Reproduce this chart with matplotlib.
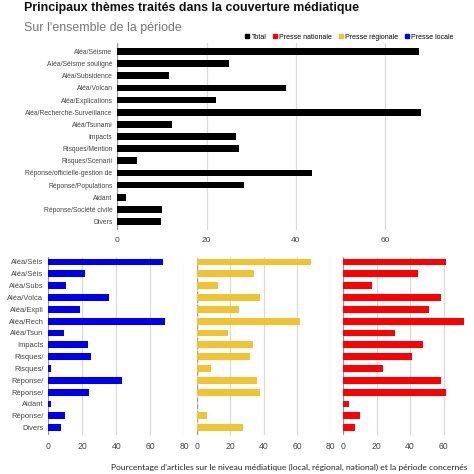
import matplotlib
matplotlib.use('Agg')
import matplotlib.pyplot as plt
from matplotlib.lines import Line2D

# themes, top chart (full labels) and small multiples (truncated labels)
themes = ['Aléa/Séisme', 'Aléa/Séisme souligné', 'Aléa/Subsidence', 'Aléa/Volcan',
          'Aléa/Explications', 'Aléa/Recherche-Surveillance', 'Aléa/Tsunami', 'Impacts',
          'Risques/Mention', 'Risques/Scenarii', 'Réponse/officielle-gestion de',
          'Réponse/Populations', 'Aidant', 'Réponse/Société civile', 'Divers']
short_themes = ['Aléa/Séis', 'Aléa/Séis', 'Aléa/Subs', 'Aléa/Volca', 'Aléa/Expli',
                'Aléa/Rech', 'Aléa/Tsun', 'Impacts', 'Risques/', 'Risques/',
                'Réponse/', 'Réponse/', 'Aidant', 'Réponse/', 'Divers']

total = [67.6, 24.9, 11.6, 37.7, 22.0, 68.1, 12.3, 26.5, 27.2, 4.3, 43.6, 28.4, 2.0, 10.1, 9.7]
locale = [67.6, 21.6, 10.4, 35.7, 18.6, 68.8, 9.2, 23.1, 24.9, 1.4, 43.3, 23.9, 1.8, 10.0, 7.3]
regionale = [68.1, 34.1, 12.5, 38.0, 25.3, 61.6, 18.9, 33.9, 31.7, 8.6, 36.3, 38.0, 0.0, 6.2, 27.7]
nationale = [61.6, 44.5, 17.1, 58.4, 51.6, 72.2, 31.0, 48.0, 41.2, 24.1, 58.4, 61.6, 3.5, 10.2, 6.9]

legend_names = ['Total', 'Presse nationale', 'Presse régionale', 'Presse locale']

BLACK = '#000000'
RED = '#ff0000'
YELLOW = '#f1c232'
BLUE = '#0000ee'
GRID = '#d9d9d9'

plt.rcParams['font.family'] = ['Liberation Sans Narrow', 'Liberation Sans', 'DejaVu Sans']

W = H = 474
fig = plt.figure(figsize=(W / 100, H / 100), dpi=100)
fig.patch.set_facecolor('white')


def px_axes(x0, y0, x1, y1):
    # pixel box (top-left origin) -> figure axes
    return fig.add_axes([x0 / W, 1 - y1 / H, (x1 - x0) / W, (y1 - y0) / H])


def style(ax, xmax, ticks, tick_fs, zero_ls='-'):
    ax.set_xlim(0, xmax)
    ax.set_xticks(ticks)
    ax.xaxis.grid(True, color=GRID, linewidth=0.9)
    ax.set_axisbelow(True)
    for s in ax.spines.values():
        s.set_visible(False)
    ax.axvline(0, color='#999999', linewidth=0.9, linestyle=zero_ls, zorder=1)
    ax.tick_params(axis='both', length=0, colors='#444444')
    ax.tick_params(axis='x', labelsize=tick_fs, pad=5)


y = list(range(len(themes)))

# top chart: totals
ax = px_axes(117.3, 43, 452.3, 230)
ax.barh(y, total, height=0.56, color=BLACK, zorder=2)
ax.set_ylim(14.7, -0.7)
ax.set_yticks(y)
ax.set_yticklabels(themes, fontsize=4.9, color='#222222')
style(ax, 75, [0, 20, 40, 60], 6)
ax.tick_params(axis='y', pad=3.5)

handles = [Line2D([], [], marker='s', linestyle='none', color=c, markersize=3.0)
           for c in [BLACK, RED, YELLOW, BLUE]]
fig.legend(handles, legend_names, loc='center right', bbox_to_anchor=(457 / W, 1 - 37.3 / H),
           ncol=4, frameon=False, fontsize=5.0, handlelength=0.6, handletextpad=0.35,
           columnspacing=0.9, borderpad=0)

# small multiples: local, regional, national
panels = [(locale, BLUE, 48.3, 184.3, [0, 20, 40, 60, 80], '-'),
          (regionale, YELLOW, 196.6, 330.6, [0, 20, 40, 60, 80], '--'),
          (nationale, RED, 343.0, 477.0, [0, 20, 40, 60], '-')]
for i, (vals, col, x0, x1, ticks, ls) in enumerate(panels):
    ax = px_axes(x0, 257, x1, 435)
    ax.barh(y, vals, height=0.58, color=col, zorder=2)
    ax.set_ylim(14.62, -0.42)
    ax.set_yticks(y)
    if i == 0:
        ax.set_yticklabels(short_themes, fontsize=5.4, color='#222222')
    else:
        ax.set_yticklabels([])
    style(ax, 80, ticks, 6.2, zero_ls=ls)
    ax.tick_params(axis='y', pad=3.5)

fig.text(24 / W, 1 - 8.5 / H, 'Principaux thèmes traités dans la couverture médiatique',
         fontsize=8.9, fontweight='bold', color='#111111', va='center', ha='left',
         family=['Liberation Sans Narrow', 'Liberation Sans'])
fig.text(24 / W, 1 - 28 / H, "Sur l'ensemble de la période", fontsize=8.9,
         color='#757575', va='center', ha='left',
         family=['Liberation Sans Narrow', 'Liberation Sans'])
fig.text(289.5 / W, 1 - 467.5 / H,
         "Pourcentage d'articles sur le niveau médiatique (local, régional, national) et la période concernés",
         fontsize=6.1, color='#222222', va='center', ha='center', family=['Lato', 'DejaVu Sans'])

fig.savefig('out.png', dpi=100, facecolor='white')
